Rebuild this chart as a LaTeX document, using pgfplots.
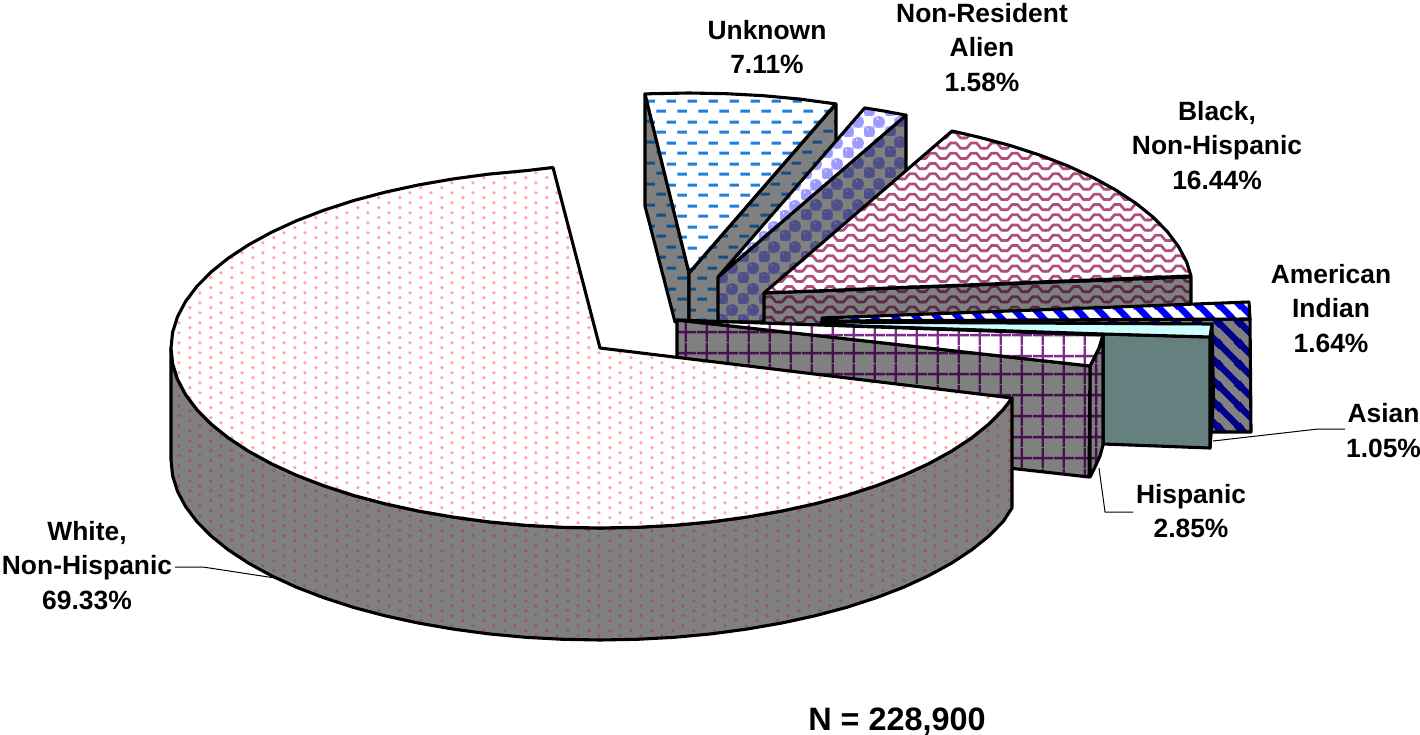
\documentclass[border=0pt]{standalone}
\usepackage{fontspec}
\setmainfont{Liberation Sans}
\usepackage{pgfplots}
\pgfplotsset{compat=1.18}
\usetikzlibrary{patterns}
\definecolor{sidegray}{HTML}{808080}
\definecolor{teal2}{HTML}{668080}
\definecolor{paleCy}{HTML}{CCFFFF}
\definecolor{dashT}{HTML}{1F7FDC}
\definecolor{dashS}{HTML}{104F88}
\definecolor{ballT}{HTML}{9C9CFF}
\definecolor{ballS}{HTML}{4E4E8A}
\definecolor{waveT}{HTML}{AE4F80}
\definecolor{waveS}{HTML}{5C2A48}
\definecolor{gridT}{HTML}{7F2A8C}
\definecolor{gridS}{HTML}{470F50}
\definecolor{dotT}{HTML}{FFA4A8}
\definecolor{dotS}{HTML}{9C5560}
\pgfdeclarepatternformonly{xdots}{\pgfqpoint{0bp}{0bp}}{\pgfqpoint{20.5bp}{10.25bp}}{\pgfqpoint{20.5bp}{10.25bp}}{%
  \pgfpathcircle{\pgfqpoint{5bp}{2.56bp}}{1.9bp}\pgfusepath{fill}%
  \pgfpathcircle{\pgfqpoint{15.25bp}{7.69bp}}{1.9bp}\pgfusepath{fill}}
\pgfdeclarepatternformonly{xdash}{\pgfqpoint{0bp}{0bp}}{\pgfqpoint{20.5bp}{20.5bp}}{\pgfqpoint{20.5bp}{20.5bp}}{%
  \pgfpathrectangle{\pgfqpoint{0.5bp}{3.5bp}}{\pgfqpoint{9.5bp}{3bp}}\pgfusepath{fill}%
  \pgfpathrectangle{\pgfqpoint{10.75bp}{13.75bp}}{\pgfqpoint{9.5bp}{3bp}}\pgfusepath{fill}}
\pgfdeclarepatternformonly{xwave}{\pgfqpoint{-1bp}{-2bp}}{\pgfqpoint{21.5bp}{12.25bp}}{\pgfqpoint{20.5bp}{10.25bp}}{%
  \pgfsetlinewidth{2.7bp}\pgfsetroundjoin%
  \pgfpathmoveto{\pgfqpoint{-1bp}{2.4bp}}%
  \pgfpathlineto{\pgfqpoint{3bp}{2.4bp}}%
  \pgfpathlineto{\pgfqpoint{7.5bp}{7.8bp}}%
  \pgfpathlineto{\pgfqpoint{13bp}{7.8bp}}%
  \pgfpathlineto{\pgfqpoint{17.5bp}{2.4bp}}%
  \pgfpathlineto{\pgfqpoint{21.5bp}{2.4bp}}%
  \pgfusepath{stroke}}
\pgfdeclarepatternformonly{xstripe}{\pgfqpoint{0bp}{0bp}}{\pgfqpoint{20.5bp}{20.5bp}}{\pgfqpoint{20.5bp}{20.5bp}}{%
  \pgfsetlinewidth{6.5bp}%
  \pgfpathmoveto{\pgfqpoint{-5bp}{5bp}}\pgfpathlineto{\pgfqpoint{5bp}{-5bp}}%
  \pgfpathmoveto{\pgfqpoint{-5bp}{25.5bp}}\pgfpathlineto{\pgfqpoint{25.5bp}{-5bp}}%
  \pgfpathmoveto{\pgfqpoint{15.5bp}{25.5bp}}\pgfpathlineto{\pgfqpoint{25.5bp}{15.5bp}}%
  \pgfusepath{stroke}}
\pgfdeclarepatternformonly{xgrid}{\pgfqpoint{0bp}{0bp}}{\pgfqpoint{20.5bp}{20.5bp}}{\pgfqpoint{20.5bp}{20.5bp}}{%
  \pgfsetlinewidth{2.5bp}%
  \pgfpathmoveto{\pgfqpoint{10bp}{0bp}}\pgfpathlineto{\pgfqpoint{10bp}{20.5bp}}%
  \pgfpathmoveto{\pgfqpoint{0bp}{10bp}}\pgfpathlineto{\pgfqpoint{20.5bp}{10bp}}%
  \pgfusepath{stroke}}
\pgfdeclarepatternformonly{xball}{\pgfqpoint{0bp}{0bp}}{\pgfqpoint{20.5bp}{20.5bp}}{\pgfqpoint{20.5bp}{20.5bp}}{%
  \pgfseteorule%
  \pgfpathcircle{\pgfqpoint{5.1bp}{5.1bp}}{6bp}\pgfpathcircle{\pgfqpoint{3.6bp}{8bp}}{1.1bp}\pgfusepath{fill}%
  \pgfpathcircle{\pgfqpoint{15.35bp}{15.35bp}}{6bp}\pgfpathcircle{\pgfqpoint{13.85bp}{18.25bp}}{1.1bp}\pgfusepath{fill}%
  \pgfsetlinewidth{0.8bp}%
  \pgfpathmoveto{\pgfqpoint{10.25bp}{0bp}}\pgfpathlineto{\pgfqpoint{10.25bp}{20.5bp}}%
  \pgfpathmoveto{\pgfqpoint{0bp}{10.25bp}}\pgfpathlineto{\pgfqpoint{20.5bp}{10.25bp}}%
  \pgfusepath{stroke}}
\newcommand{\face}[4]{%
  \addplot[fill=#1,draw=none,forget plot] coordinates {#4} --cycle;
  \addplot[pattern=#2,pattern color=#3,draw=none,forget plot] coordinates {#4} --cycle;
  \addplot[draw=black,line width=3.1bp,line join=round,forget plot] coordinates {#4} --cycle;
}
\newcommand{\plainface}[2]{%
  \addplot[fill=#1,draw=black,line width=3.1bp,line join=round,forget plot] coordinates {#2} --cycle;
}
\newcommand{\lbl}[2]{\node[align=center,inner sep=0pt,font=\fontsize{26.4bp}{34.5bp}\selectfont\bfseries] at (axis cs:#1) {#2};}
\begin{document}
\begin{tikzpicture}
\path[use as bounding box,clip] (0,0) rectangle (1420bp,735bp);
\begin{axis}[at={(0,0)},anchor=south west,scale only axis,width=1420bp,height=735bp,
  xmin=0,xmax=1420,ymin=0,ymax=735,y dir=reverse,axis lines=none,clip=false,no markers]
% Unknown
\face{sidegray}{xdash}{dashS}{(645,94)(645,206)(675,322)(689,322)(689,273)}
\face{sidegray}{xdash}{dashS}{(689,273)(836,104)(836,216)(730,322)(689,322)}
\face{white}{xdash}{dashT}{(689,273)(645,94)(651.6,93.7)(689,93)(726.4,93.7)(763.5,95.7)(800,99.1)(835.7,103.9)}
% Non-Resident
\face{sidegray}{xball}{ballS}{(718,277)(906,115)(906,225)(790,322)(718,322)}
\face{white}{xball}{ballT}{(718,277)(864.7,107.9)(885.6,111.3)(906,115.2)}
% Black
\face{sidegray}{xwave}{waveS}{(764,293)(1191,277)(1191,325)(764,325)}
\face{white}{xwave}{waveT}{(764,293)(952,131)(978.5,137.1)(1010.1,145.5)(1039.8,155.1)(1067.4,165.7)(1092.6,177.3)(1115.4,189.8)(1135.5,203)(1152.8,216.9)(1167.1,231.4)(1178.4,246.4)(1186.5,261.7)(1191,276)}
% American Indian
\face{sidegray}{xstripe}{blue!55!black}{(822,321)(1250,319)(1251,432)(1105,432)(1105,340)(822,326)}
\face{white}{xstripe}{blue}{(822,318)(1249,302)(1250,319)(822,321)}
% Asian
\plainface{teal2}{(1212,324)(1213.5,400)(1210,448)(1210,337)}
\plainface{teal2}{(1103,334)(1210,337)(1210,448)(1103,444)}
\plainface{paleCy}{(822,322)(1212,324)(1210,337)(1103,334)(830,325)}
% Hispanic
\face{sidegray}{xgrid}{gridS}{(1090,366)(1094,358)(1099,348)(1103,335)(1103,445)(1100,456)(1095,467)(1090,477)}
\face{sidegray}{xgrid}{gridS}{(677,320)(1090,366)(1089,477)(677,431)}
\face{white}{xgrid}{gridT}{(677,320)(1103,335)(1099,348)(1094,358)(1090,366)}
% White, Non-Hispanic
\face{sidegray}{xdots}{dotS}{(171,348)(172.6,363.7)(177.5,379.3)(185.6,394.6)(196.9,409.6)(211.2,424.1)(228.5,438)(248.6,451.2)(271.4,463.7)(296.6,475.3)(324.2,485.9)(353.9,495.5)(385.5,503.9)(418.7,511.1)(453.3,517.1)(489,521.9)(525.5,525.3)(562.6,527.3)(600,528)(637.4,527.3)(674.5,525.3)(711,521.9)(746.7,517.1)(781.3,511.1)(814.5,503.9)(846.1,495.5)(875.8,485.9)(903.4,475.3)(928.6,463.7)(951.4,451.2)(971.5,438)(988.8,424.1)(1003.1,409.6)(1012,398)(1012,508)(1003.1,521.6)(988.8,536.1)(971.5,550)(951.4,563.2)(928.6,575.7)(903.4,587.3)(875.8,597.9)(846.1,607.5)(814.5,615.9)(781.3,623.1)(746.7,629.1)(711,633.9)(674.5,637.3)(637.4,639.3)(600,640)(562.6,639.3)(525.5,637.3)(489,633.9)(453.3,629.1)(418.7,623.1)(385.5,615.9)(353.9,607.5)(324.2,597.9)(296.6,587.3)(271.4,575.7)(248.6,563.2)(228.5,550)(211.2,536.1)(196.9,521.6)(185.6,506.6)(177.5,491.3)(172.6,475.7)(171,460)}
\face{white}{xdots}{dotT}{(600,348)(1012,398)(1003.1,409.6)(988.8,424.1)(971.5,438)(951.4,451.2)(928.6,463.7)(903.4,475.3)(875.8,485.9)(846.1,495.5)(814.5,503.9)(781.3,511.1)(746.7,517.1)(711,521.9)(674.5,525.3)(637.4,527.3)(600,528)(562.6,527.3)(525.5,525.3)(489,521.9)(453.3,517.1)(418.7,511.1)(385.5,503.9)(353.9,495.5)(324.2,485.9)(296.6,475.3)(271.4,463.7)(248.6,451.2)(228.5,438)(211.2,424.1)(196.9,409.6)(185.6,394.6)(177.5,379.3)(172.6,363.7)(171,348)(172.6,332.3)(177.5,316.7)(185.6,301.4)(196.9,286.4)(211.2,271.9)(228.5,258)(248.6,244.8)(271.4,232.3)(296.6,220.7)(324.2,210.1)(353.9,200.5)(385.5,192.1)(418.7,184.9)(453.3,178.9)(489,174.1)(525.5,170.7)(553,167.5)}
% leader lines
\addplot[black,line width=1bp,forget plot] coordinates {(175,567)(203,567)(275,578)};
\addplot[black,line width=1bp,forget plot] coordinates {(1213,441)(1318,429)(1345,429)};
\addplot[black,line width=1bp,forget plot] coordinates {(1099,468)(1105,512)(1133,512)};
% labels
\lbl{767,47}{Unknown\\7.11\%}
\lbl{982,47.5}{Non-Resident\\Alien\\1.58\%}
\lbl{1217,145.5}{Black,\\Non-Hispanic\\16.44\%}
\lbl{1331,308.5}{American\\Indian\\1.64\%}
\lbl{1383.5,430.5}{Asian\\1.05\%}
\lbl{1191,511}{Hispanic\\2.85\%}
\lbl{87,565.5}{White,\\Non-Hispanic\\69.33\%}
\node[inner sep=0pt,font=\fontsize{32.4bp}{36bp}\selectfont\bfseries] at (axis cs:897,722) {N = 228,900};
\end{axis}
\end{tikzpicture}
\end{document}
